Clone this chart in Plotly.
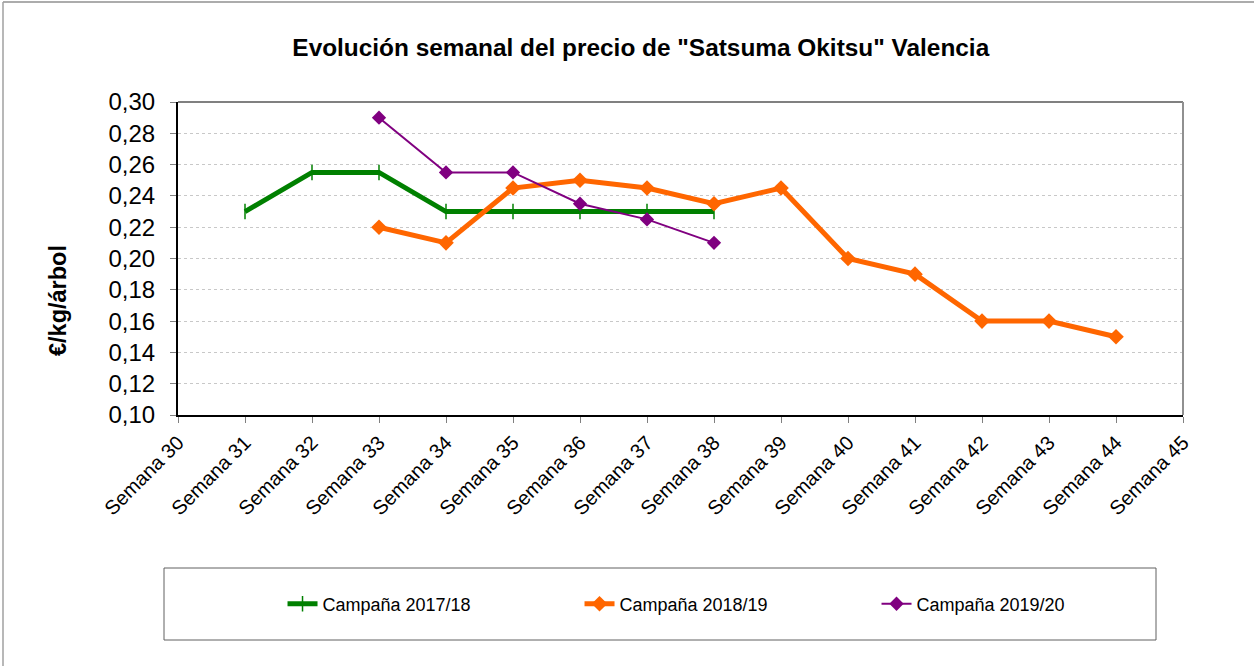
import plotly.graph_objects as go

weeks = [f"Semana {n}" for n in range(30, 46)]

weeks_1718 = ["Semana 31", "Semana 32", "Semana 33", "Semana 34", "Semana 35", "Semana 36", "Semana 37", "Semana 38"]
price_1718 = [0.23, 0.255, 0.255, 0.23, 0.23, 0.23, 0.23, 0.23]

weeks_1819 = ["Semana 33", "Semana 34", "Semana 35", "Semana 36", "Semana 37", "Semana 38",
              "Semana 39", "Semana 40", "Semana 41", "Semana 42", "Semana 43", "Semana 44"]
price_1819 = [0.22, 0.21, 0.245, 0.25, 0.245, 0.235, 0.245, 0.20, 0.19, 0.16, 0.16, 0.15]

weeks_1920 = ["Semana 33", "Semana 34", "Semana 35", "Semana 36", "Semana 37", "Semana 38"]
price_1920 = [0.29, 0.255, 0.255, 0.235, 0.225, 0.21]

yticks = [0.10, 0.12, 0.14, 0.16, 0.18, 0.20, 0.22, 0.24, 0.26, 0.28, 0.30]
yticktext = [f"{v:.2f}".replace(".", ",") for v in yticks]

FONT = "Liberation Sans, Arial, sans-serif"

fig = go.Figure()
fig.add_trace(go.Scatter(
    x=weeks_1718, y=price_1718, name="Campaña 2017/18", mode="lines+markers",
    line=dict(color="#008000", width=5),
    marker=dict(symbol="line-ns", size=11, line=dict(color="#008000", width=1.5), color="#008000"),
))
fig.add_trace(go.Scatter(
    x=weeks_1819, y=price_1819, name="Campaña 2018/19", mode="lines+markers",
    line=dict(color="#FF6600", width=5),
    marker=dict(symbol="diamond", size=12, color="#FF6600"),
))
fig.add_trace(go.Scatter(
    x=weeks_1920, y=price_1920, name="Campaña 2019/20", mode="lines+markers",
    line=dict(color="#800080", width=2),
    marker=dict(symbol="diamond", size=11, color="#800080"),
))

fig.update_layout(
    width=1254, height=666,
    margin=dict(l=178, r=71, t=102, b=251),
    paper_bgcolor="white", plot_bgcolor="white",
    font=dict(family=FONT, color="black"),
    title=dict(text='<b>Evolución semanal del precio de "Satsuma Okitsu" Valencia</b>',
               x=0.511, xanchor="center", xref="container", y=1 - 47 / 666, yanchor="middle",
               font=dict(size=24.4, family=FONT, color="black")),
    xaxis=dict(type="category", categoryorder="array", categoryarray=weeks,
               tickvals=weeks, ticktext=weeks, range=[0, 15],
               tickangle=-45, tickfont=dict(size=20, family=FONT),
               showline=True, linecolor="black", linewidth=2, mirror=False,
               ticks="outside", ticklen=6, tickcolor="#808080", showgrid=False, zeroline=False),
    yaxis=dict(range=[0.10, 0.30], tickvals=yticks, ticktext=yticktext,
               tickfont=dict(size=24, family=FONT), ticklabelstandoff=10,
               showline=True, linecolor="black", linewidth=2,
               ticks="outside", ticklen=6, tickcolor="#808080",
               showgrid=True, gridcolor="#c8c8c8", griddash="dot", gridwidth=1, zeroline=False),
    annotations=[
        dict(text="<b>€/kg/árbol</b>", xref="paper", yref="paper",
             x=(58 - 178) / 1005, y=(415 - 301) / 313, xanchor="center", yanchor="middle",
             textangle=-90, showarrow=False, font=dict(size=23.5, family=FONT, color="black")),
    ],
    showlegend=True,
    legend=dict(orientation="h", x=0.104, xanchor="left", y=-0.604, yanchor="middle",
                font=dict(size=18, family=FONT), entrywidth=252, entrywidthmode="pixels",
                bgcolor="rgba(0,0,0,0)", itemclick=False),
    shapes=[
        # plot area top/right border
        dict(type="line", xref="paper", yref="paper", x0=0, x1=1, y0=1, y1=1,
             line=dict(color="#808080", width=2)),
        dict(type="line", xref="paper", yref="paper", x0=1, x1=1, y0=0, y1=1,
             line=dict(color="#909090", width=2)),
        # legend box
        dict(type="rect", xref="paper", yref="paper",
             x0=(164 - 178) / 1005, x1=(1156 - 178) / 1005,
             y0=(415 - 640) / 313, y1=(415 - 568) / 313,
             line=dict(color="#606060", width=1), fillcolor="rgba(0,0,0,0)", layer="below"),
        # outer chart border (only top and left edges visible)
        dict(type="line", xref="paper", yref="paper",
             x0=(3 - 178) / 1005, x1=(1254 - 178) / 1005,
             y0=(415 - 2) / 313, y1=(415 - 2) / 313,
             line=dict(color="#909090", width=1.5), layer="below"),
        dict(type="line", xref="paper", yref="paper",
             x0=(3 - 178) / 1005, x1=(3 - 178) / 1005,
             y0=(415 - 666) / 313, y1=(415 - 2) / 313,
             line=dict(color="#a0a0a0", width=1.5), layer="below"),
    ],
)

fig.write_html("out.html", config={"displayModeBar": False},
               post_script="document.body.style.margin='0';document.body.style.overflow='hidden';")
